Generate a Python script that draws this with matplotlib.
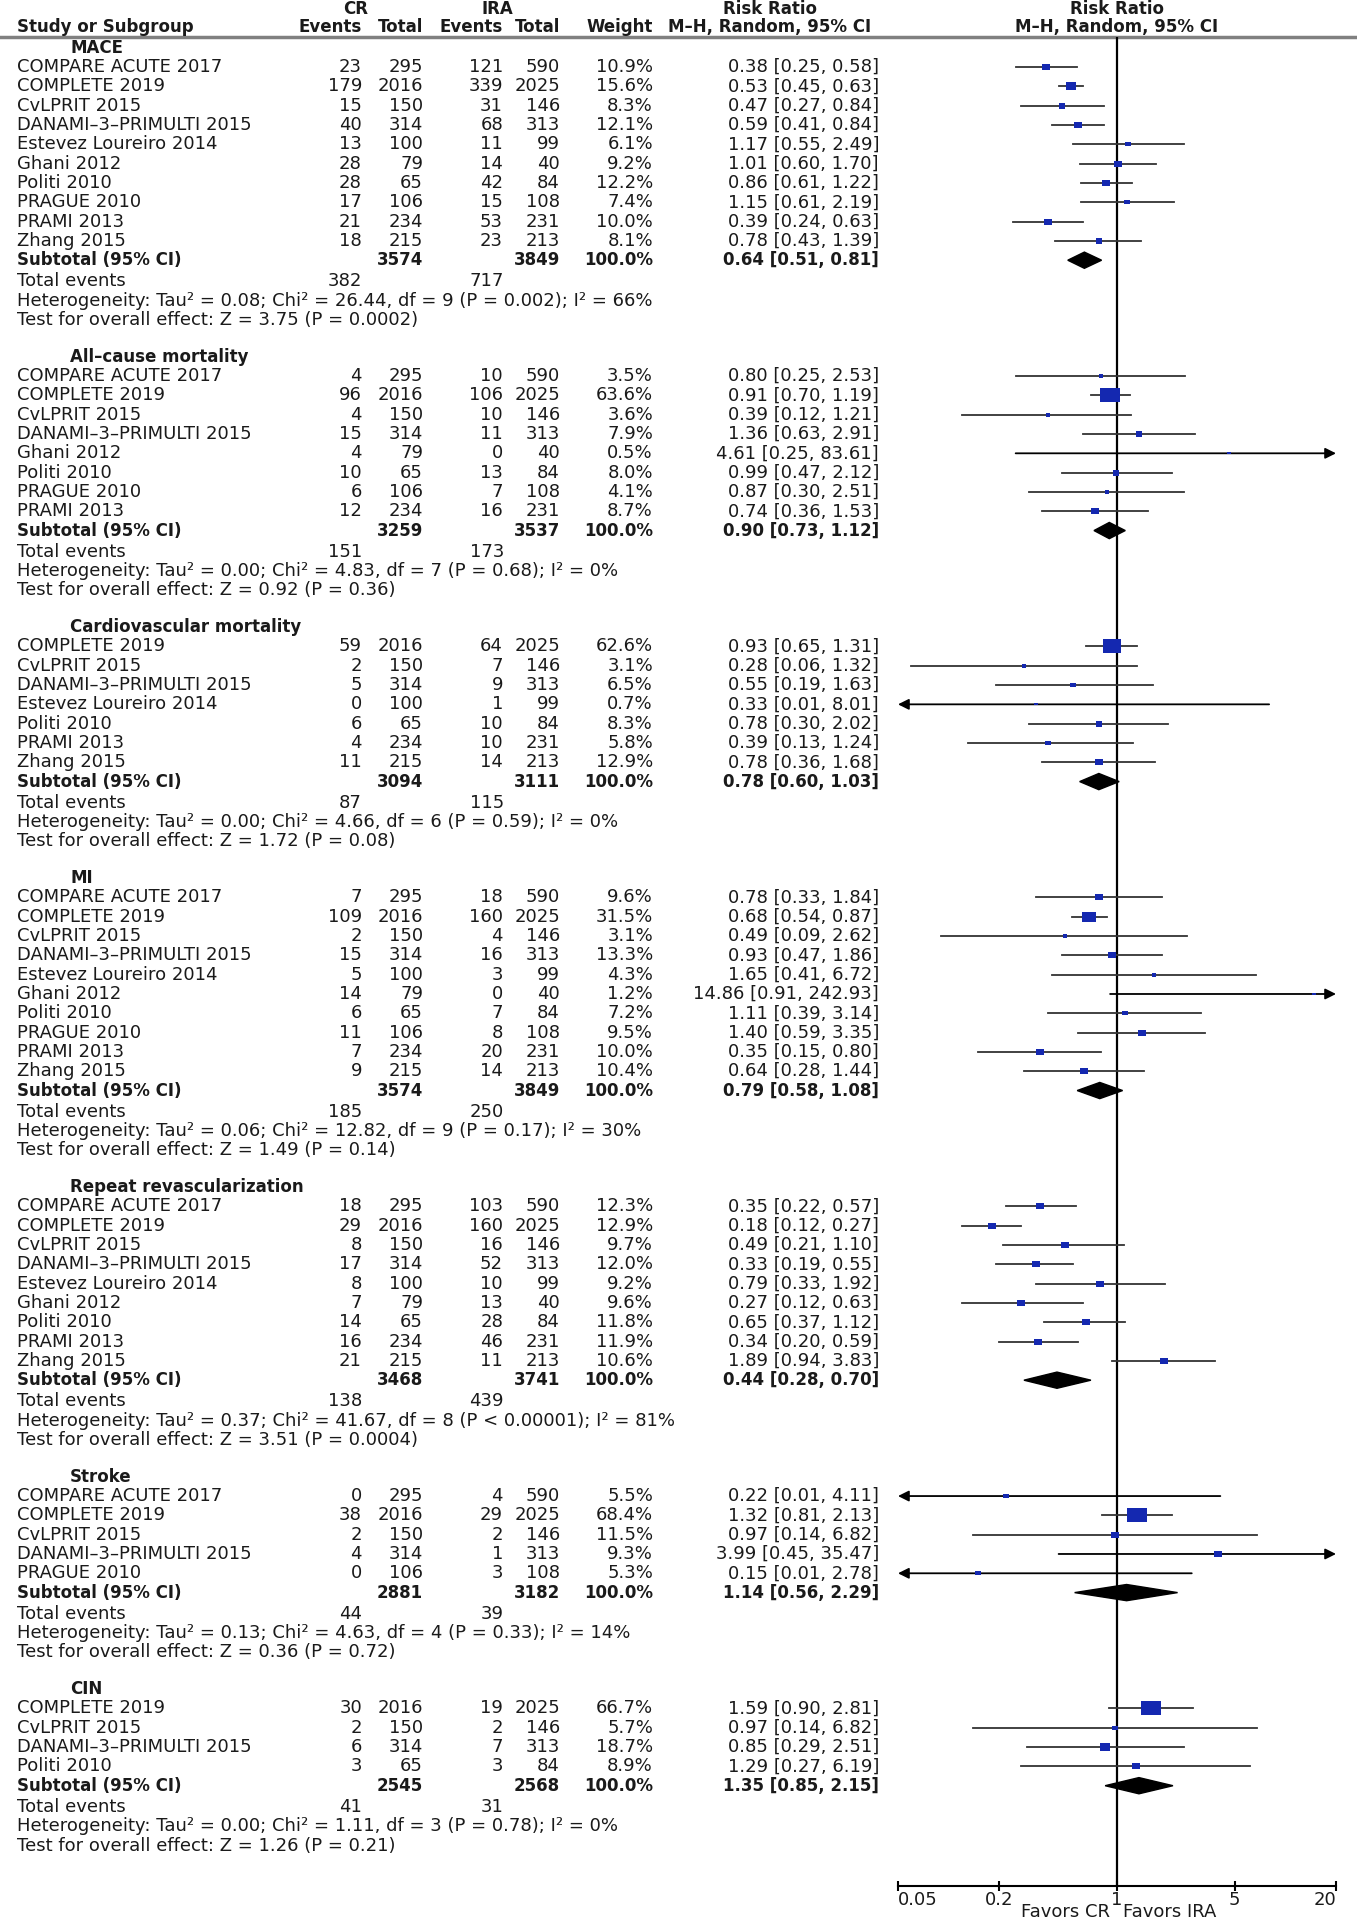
import matplotlib
matplotlib.use("Agg")
import matplotlib.pyplot as plt
from matplotlib.patches import Polygon

# ---- data ----
mace_names = ["COMPARE ACUTE 2017", "COMPLETE 2019", "CvLPRIT 2015", "DANAMI–3–PRIMULTI 2015",
              "Estevez Loureiro 2014", "Ghani 2012", "Politi 2010", "PRAGUE 2010", "PRAMI 2013", "Zhang 2015"]
mace_cr_ev = [23, 179, 15, 40, 13, 28, 28, 17, 21, 18]
mace_cr_n = [295, 2016, 150, 314, 100, 79, 65, 106, 234, 215]
mace_ira_ev = [121, 339, 31, 68, 11, 14, 42, 15, 53, 23]
mace_ira_n = [590, 2025, 146, 313, 99, 40, 84, 108, 231, 213]
mace_w = [10.9, 15.6, 8.3, 12.1, 6.1, 9.2, 12.2, 7.4, 10.0, 8.1]
mace_rr = [0.38, 0.53, 0.47, 0.59, 1.17, 1.01, 0.86, 1.15, 0.39, 0.78]
mace_lo = [0.25, 0.45, 0.27, 0.41, 0.55, 0.60, 0.61, 0.61, 0.24, 0.43]
mace_hi = [0.58, 0.63, 0.84, 0.84, 2.49, 1.70, 1.22, 2.19, 0.63, 1.39]
mace_sub = [3574, 3849, 0.64, 0.51, 0.81]
mace_tot = [382, 717]
mace_het = "Tau² = 0.08; Chi² = 26.44, df = 9 (P = 0.002); I² = 66%"
mace_z = "Z = 3.75 (P = 0.0002)"

acm_names = ["COMPARE ACUTE 2017", "COMPLETE 2019", "CvLPRIT 2015", "DANAMI–3–PRIMULTI 2015",
             "Ghani 2012", "Politi 2010", "PRAGUE 2010", "PRAMI 2013"]
acm_cr_ev = [4, 96, 4, 15, 4, 10, 6, 12]
acm_cr_n = [295, 2016, 150, 314, 79, 65, 106, 234]
acm_ira_ev = [10, 106, 10, 11, 0, 13, 7, 16]
acm_ira_n = [590, 2025, 146, 313, 40, 84, 108, 231]
acm_w = [3.5, 63.6, 3.6, 7.9, 0.5, 8.0, 4.1, 8.7]
acm_rr = [0.80, 0.91, 0.39, 1.36, 4.61, 0.99, 0.87, 0.74]
acm_lo = [0.25, 0.70, 0.12, 0.63, 0.25, 0.47, 0.30, 0.36]
acm_hi = [2.53, 1.19, 1.21, 2.91, 83.61, 2.12, 2.51, 1.53]
acm_sub = [3259, 3537, 0.90, 0.73, 1.12]
acm_tot = [151, 173]
acm_het = "Tau² = 0.00; Chi² = 4.83, df = 7 (P = 0.68); I² = 0%"
acm_z = "Z = 0.92 (P = 0.36)"

cvm_names = ["COMPLETE 2019", "CvLPRIT 2015", "DANAMI–3–PRIMULTI 2015", "Estevez Loureiro 2014",
             "Politi 2010", "PRAMI 2013", "Zhang 2015"]
cvm_cr_ev = [59, 2, 5, 0, 6, 4, 11]
cvm_cr_n = [2016, 150, 314, 100, 65, 234, 215]
cvm_ira_ev = [64, 7, 9, 1, 10, 10, 14]
cvm_ira_n = [2025, 146, 313, 99, 84, 231, 213]
cvm_w = [62.6, 3.1, 6.5, 0.7, 8.3, 5.8, 12.9]
cvm_rr = [0.93, 0.28, 0.55, 0.33, 0.78, 0.39, 0.78]
cvm_lo = [0.65, 0.06, 0.19, 0.01, 0.30, 0.13, 0.36]
cvm_hi = [1.31, 1.32, 1.63, 8.01, 2.02, 1.24, 1.68]
cvm_sub = [3094, 3111, 0.78, 0.60, 1.03]
cvm_tot = [87, 115]
cvm_het = "Tau² = 0.00; Chi² = 4.66, df = 6 (P = 0.59); I² = 0%"
cvm_z = "Z = 1.72 (P = 0.08)"

mi_names = ["COMPARE ACUTE 2017", "COMPLETE 2019", "CvLPRIT 2015", "DANAMI–3–PRIMULTI 2015",
            "Estevez Loureiro 2014", "Ghani 2012", "Politi 2010", "PRAGUE 2010", "PRAMI 2013", "Zhang 2015"]
mi_cr_ev = [7, 109, 2, 15, 5, 14, 6, 11, 7, 9]
mi_cr_n = [295, 2016, 150, 314, 100, 79, 65, 106, 234, 215]
mi_ira_ev = [18, 160, 4, 16, 3, 0, 7, 8, 20, 14]
mi_ira_n = [590, 2025, 146, 313, 99, 40, 84, 108, 231, 213]
mi_w = [9.6, 31.5, 3.1, 13.3, 4.3, 1.2, 7.2, 9.5, 10.0, 10.4]
mi_rr = [0.78, 0.68, 0.49, 0.93, 1.65, 14.86, 1.11, 1.40, 0.35, 0.64]
mi_lo = [0.33, 0.54, 0.09, 0.47, 0.41, 0.91, 0.39, 0.59, 0.15, 0.28]
mi_hi = [1.84, 0.87, 2.62, 1.86, 6.72, 242.93, 3.14, 3.35, 0.80, 1.44]
mi_sub = [3574, 3849, 0.79, 0.58, 1.08]
mi_tot = [185, 250]
mi_het = "Tau² = 0.06; Chi² = 12.82, df = 9 (P = 0.17); I² = 30%"
mi_z = "Z = 1.49 (P = 0.14)"

rr_names = ["COMPARE ACUTE 2017", "COMPLETE 2019", "CvLPRIT 2015", "DANAMI–3–PRIMULTI 2015",
            "Estevez Loureiro 2014", "Ghani 2012", "Politi 2010", "PRAMI 2013", "Zhang 2015"]
rr_cr_ev = [18, 29, 8, 17, 8, 7, 14, 16, 21]
rr_cr_n = [295, 2016, 150, 314, 100, 79, 65, 234, 215]
rr_ira_ev = [103, 160, 16, 52, 10, 13, 28, 46, 11]
rr_ira_n = [590, 2025, 146, 313, 99, 40, 84, 231, 213]
rr_w = [12.3, 12.9, 9.7, 12.0, 9.2, 9.6, 11.8, 11.9, 10.6]
rr_rr = [0.35, 0.18, 0.49, 0.33, 0.79, 0.27, 0.65, 0.34, 1.89]
rr_lo = [0.22, 0.12, 0.21, 0.19, 0.33, 0.12, 0.37, 0.20, 0.94]
rr_hi = [0.57, 0.27, 1.10, 0.55, 1.92, 0.63, 1.12, 0.59, 3.83]
rr_sub = [3468, 3741, 0.44, 0.28, 0.70]
rr_tot = [138, 439]
rr_het = "Tau² = 0.37; Chi² = 41.67, df = 8 (P < 0.00001); I² = 81%"
rr_z = "Z = 3.51 (P = 0.0004)"

st_names = ["COMPARE ACUTE 2017", "COMPLETE 2019", "CvLPRIT 2015", "DANAMI–3–PRIMULTI 2015", "PRAGUE 2010"]
st_cr_ev = [0, 38, 2, 4, 0]
st_cr_n = [295, 2016, 150, 314, 106]
st_ira_ev = [4, 29, 2, 1, 3]
st_ira_n = [590, 2025, 146, 313, 108]
st_w = [5.5, 68.4, 11.5, 9.3, 5.3]
st_rr = [0.22, 1.32, 0.97, 3.99, 0.15]
st_lo = [0.01, 0.81, 0.14, 0.45, 0.01]
st_hi = [4.11, 2.13, 6.82, 35.47, 2.78]
st_sub = [2881, 3182, 1.14, 0.56, 2.29]
st_tot = [44, 39]
st_het = "Tau² = 0.13; Chi² = 4.63, df = 4 (P = 0.33); I² = 14%"
st_z = "Z = 0.36 (P = 0.72)"

cin_names = ["COMPLETE 2019", "CvLPRIT 2015", "DANAMI–3–PRIMULTI 2015", "Politi 2010"]
cin_cr_ev = [30, 2, 6, 3]
cin_cr_n = [2016, 150, 314, 65]
cin_ira_ev = [19, 2, 7, 3]
cin_ira_n = [2025, 146, 313, 84]
cin_w = [66.7, 5.7, 18.7, 8.9]
cin_rr = [1.59, 0.97, 0.85, 1.29]
cin_lo = [0.90, 0.14, 0.29, 0.27]
cin_hi = [2.81, 6.82, 2.51, 6.19]
cin_sub = [2545, 2568, 1.35, 0.85, 2.15]
cin_tot = [41, 31]
cin_het = "Tau² = 0.00; Chi² = 1.11, df = 3 (P = 0.78); I² = 0%"
cin_z = "Z = 1.26 (P = 0.21)"

groups = [
    ("MACE", mace_names, mace_cr_ev, mace_cr_n, mace_ira_ev, mace_ira_n, mace_w, mace_rr, mace_lo, mace_hi, mace_sub, mace_tot, mace_het, mace_z),
    ("All–cause mortality", acm_names, acm_cr_ev, acm_cr_n, acm_ira_ev, acm_ira_n, acm_w, acm_rr, acm_lo, acm_hi, acm_sub, acm_tot, acm_het, acm_z),
    ("Cardiovascular mortality", cvm_names, cvm_cr_ev, cvm_cr_n, cvm_ira_ev, cvm_ira_n, cvm_w, cvm_rr, cvm_lo, cvm_hi, cvm_sub, cvm_tot, cvm_het, cvm_z),
    ("MI", mi_names, mi_cr_ev, mi_cr_n, mi_ira_ev, mi_ira_n, mi_w, mi_rr, mi_lo, mi_hi, mi_sub, mi_tot, mi_het, mi_z),
    ("Repeat revascularization", rr_names, rr_cr_ev, rr_cr_n, rr_ira_ev, rr_ira_n, rr_w, rr_rr, rr_lo, rr_hi, rr_sub, rr_tot, rr_het, rr_z),
    ("Stroke", st_names, st_cr_ev, st_cr_n, st_ira_ev, st_ira_n, st_w, st_rr, st_lo, st_hi, st_sub, st_tot, st_het, st_z),
    ("CIN", cin_names, cin_cr_ev, cin_cr_n, cin_ira_ev, cin_ira_n, cin_w, cin_rr, cin_lo, cin_hi, cin_sub, cin_tot, cin_het, cin_z),
]

xticks = [0.05, 0.2, 1, 5, 20]
xticklabels = ["0.05", "0.2", "1", "5", "20"]

# ---- layout (pixels) ----
W, H = 1357, 1920
ROW0, ROWH = 47.8, 19.31
FS = 13      # regular text
FSB = 12     # bold text
TXT = "#1a1a1a"
BLUE = "#1428b0"
LINE = "#333333"


def ypx(r):
    return ROW0 + r * ROWH


fig = plt.figure(figsize=(W / 100, H / 100), dpi=100)
fig.patch.set_facecolor("white")

at = fig.add_axes([0, 0, 1, 1])
at.set_xlim(0, W)
at.set_ylim(H, 0)
at.axis("off")

x0, x1 = 898, 1336
ytop, ybot = 37, 1886
af = fig.add_axes([x0 / W, 1 - ybot / H, (x1 - x0) / W, (ybot - ytop) / H])
af.set_xscale("log")
af.set_xlim(0.05, 20)
af.set_ylim((ybot - ROW0) / ROWH, (ytop - ROW0) / ROWH)
af.patch.set_alpha(0)
for s in ["top", "left", "right"]:
    af.spines[s].set_visible(False)
af.spines["bottom"].set_linewidth(1.5)
af.set_yticks([])
af.set_xticks(xticks)
af.set_xticklabels(xticklabels, fontsize=FS, color=TXT)
af.minorticks_off()
af.tick_params(axis="x", direction="inout", length=7, width=1.5, pad=0)
labs = af.get_xticklabels()
labs[0].set_ha("left")
labs[-1].set_ha("right")
af.axvline(1, color="black", lw=1.6, zorder=1)


def t(x, y, s, ha="left", bold=False):
    at.text(x, y, s, ha=ha, va="center", fontsize=FSB if bold else FS, color=TXT,
            fontweight="bold" if bold else "normal")


# header
t(356, 9, "CR", "center", True)
t(497, 9, "IRA", "center", True)
t(770, 9, "Risk Ratio", "center", True)
t(1117, 9, "Risk Ratio", "center", True)
t(17, 27, "Study or Subgroup", bold=True)
t(362, 27, "Events", "right", True)
t(423, 27, "Total", "right", True)
t(503, 27, "Events", "right", True)
t(560, 27, "Total", "right", True)
t(653, 27, "Weight", "right", True)
t(770, 27, "M–H, Random, 95% CI", "center", True)
t(1117, 27, "M–H, Random, 95% CI", "center", True)
at.plot([0, W], [37, 37], color="#808080", lw=2.5)

r = 0
for (title, names, cre, crn, irae, iran, w, rr, lo, hi, sub, tot, het, z) in groups:
    t(70, ypx(r), title, bold=True)
    for i in range(len(names)):
        ry = r + 1 + i
        y = ypx(ry)
        t(17, y, names[i])
        t(362, y, str(cre[i]), "right")
        t(423, y, str(crn[i]), "right")
        t(503, y, str(irae[i]), "right")
        t(560, y, str(iran[i]), "right")
        t(653, y, "%.1f%%" % w[i], "right")
        t(879, y, "%.2f [%.2f, %.2f]" % (rr[i], lo[i], hi[i]), "right")
        # CI line, arrow head where it runs off the scale
        a, b = max(lo[i], 0.05), min(hi[i], 20)
        if hi[i] > 20:
            af.annotate("", xy=(b, ry), xytext=(a, ry), annotation_clip=False,
                        arrowprops=dict(arrowstyle="-|>", color=LINE, lw=1.3,
                                        mutation_scale=16, shrinkA=0, shrinkB=0,
                                        fc="black", ec="black"))
        elif lo[i] < 0.05:
            af.annotate("", xy=(a, ry), xytext=(b, ry), annotation_clip=False,
                        arrowprops=dict(arrowstyle="-|>", color=LINE, lw=1.3,
                                        mutation_scale=16, shrinkA=0, shrinkB=0,
                                        fc="black", ec="black"))
        else:
            af.plot([a, b], [ry, ry], color=LINE, lw=1.3, zorder=2)
        side = max(2.4 * w[i] ** 0.5, 3.5) * 0.72
        af.scatter([rr[i]], [ry], marker=[(-1, -0.75), (1, -0.75), (1, 0.75), (-1, 0.75)],
                   s=side ** 2, color=BLUE, zorder=4, linewidths=0)
    rs = r + len(names) + 1
    y = ypx(rs)
    t(17, y, "Subtotal (95% CI)", bold=True)
    t(423, y, str(sub[0]), "right", True)
    t(560, y, str(sub[1]), "right", True)
    t(653, y, "100.0%", "right", True)
    t(879, y, "%.2f [%.2f, %.2f]" % (sub[2], sub[3], sub[4]), "right", True)
    hh = 0.42
    af.add_patch(Polygon([(sub[3], rs), (sub[2], rs - hh), (sub[4], rs), (sub[2], rs + hh)],
                         closed=True, color="black", zorder=4))
    y = ypx(rs + 1.1)
    t(17, y, "Total events")
    t(362, y, str(tot[0]), "right")
    t(504, y, str(tot[1]), "right")
    t(17, ypx(rs + 2.1), "Heterogeneity: " + het)
    t(17, ypx(rs + 3.1), "Test for overall effect: " + z)
    r += len(names) + 6

t(1110, 1912, "Favors CR", "right")
t(1123, 1912, "Favors IRA", "left")

fig.savefig("out.png", dpi=100, facecolor="white")
